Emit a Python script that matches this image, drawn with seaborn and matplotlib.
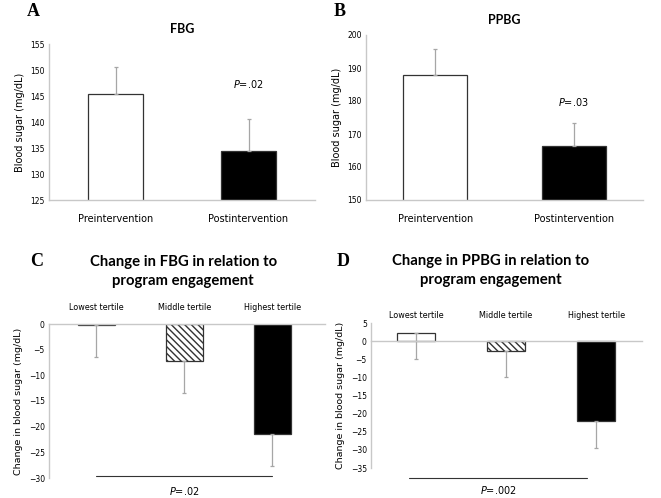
import matplotlib
matplotlib.use('agg')
import matplotlib.pyplot as plt
import seaborn as sns
import pandas as pd
import numpy as np

# panel A / B data
phases = ["Preintervention", "Postintervention"]
fbg_means = [145.4, 134.4]
fbg_err_top = [150.5, 140.5]
ppbg_means = [188.0, 166.5]
ppbg_err_top = [195.7, 173.3]

# panel C / D data
tertiles = ["Lowest tertile", "Middle tertile", "Highest tertile"]
fbg_change = [-0.2, -7.2, -21.4]
fbg_change_err = [-6.5, -13.5, -27.7]
ppbg_change = [2.3, -2.8, -22.0]
ppbg_change_err = [-5.0, -10.0, -29.5]

sns.set_theme(style="white")
plt.rcParams['font.family'] = ['DejaVu Sans']
plt.rcParams['mathtext.fontset'] = 'dejavusans'
plt.rcParams['text.color'] = 'black'
plt.rcParams['axes.labelcolor'] = 'black'
plt.rcParams['xtick.color'] = 'black'
plt.rcParams['ytick.color'] = 'black'

W, H = 661, 498
fig = plt.figure(figsize=(W / 100, H / 100), dpi=100)

SPINE = "#c8c8c8"
ERR = "#a6a6a6"


def px_axes(x0, y0, x1, y1):
    # pixel box (top-left origin) -> figure axes
    return fig.add_axes([x0 / W, 1 - y1 / H, (x1 - x0) / W, (y1 - y0) / H])


def style_axes(ax):
    for s in ["top", "right"]:
        ax.spines[s].set_visible(False)
    for s in ["left", "bottom"]:
        ax.spines[s].set_color(SPINE)
        ax.spines[s].set_linewidth(1.0)
    ax.tick_params(axis="y", labelsize=5.5, length=0, pad=3)
    ax.set_xlabel("")


def prepost_panel(box, means, err_top, ylim, yticks, title, ptxt, ppos, width):
    ax = px_axes(*box)
    df = pd.DataFrame({"phase": phases, "value": means})
    sns.barplot(data=df, x="phase", y="value", hue="phase",
                palette=["white", "black"], legend=False, width=width,
                edgecolor="#333333", linewidth=0.9, ax=ax)
    yerr = np.array(err_top) - np.array(means)
    ax.errorbar(range(len(means)), means, yerr=[np.zeros_like(yerr), yerr],
                fmt="none", ecolor=ERR, elinewidth=0.9, capsize=1.5, capthick=0.9)
    ax.set_ylim(*ylim)
    ax.set_yticks(yticks)
    ax.set_xlim(-0.5, 1.5)
    style_axes(ax)
    ax.tick_params(axis="x", labelsize=7, length=0, pad=10)
    ax.set_ylabel("Blood sugar (mg/dL)", fontsize=7, labelpad=4)
    ax.set_title(title, fontsize=9, fontweight="bold", family="Lato", pad=8)
    ax.text(ppos[0], ppos[1], ptxt, fontsize=7, ha="center", va="center")
    return ax


def change_panel(box, vals, err_end, ylim, yticks, title, ptxt,
                 xlim, label_y, line_y, line_x, p_y, title_x):
    ax = px_axes(*box)
    df = pd.DataFrame({"tertile": tertiles, "value": vals})
    sns.barplot(data=df, x="tertile", y="value", hue="tertile",
                palette=["white", "white", "black"], legend=False, width=0.42,
                edgecolor="#333333", linewidth=0.9, ax=ax)
    ax.patches[1].set_hatch("\\\\\\\\\\")
    err = np.array(vals) - np.array(err_end)
    ax.errorbar(range(len(vals)), vals, yerr=[err, np.zeros_like(err)],
                fmt="none", ecolor=ERR, elinewidth=0.9, capsize=1.5, capthick=0.9)
    ax.set_xlim(*xlim)
    ax.set_ylim(*ylim)
    ax.set_yticks(yticks)
    style_axes(ax)
    ax.spines["bottom"].set_position(("data", 0))
    ax.set_xticks([])
    for i, t in enumerate(tertiles):
        ax.text(i, label_y, t, fontsize=5.8, ha="center", va="center", clip_on=False)
    ax.plot(line_x, [line_y, line_y], color="#333333", lw=0.8, clip_on=False)
    ax.text(np.mean(line_x), p_y, ptxt, fontsize=7, ha="center", va="center", clip_on=False)
    ax.set_ylabel("Change in blood sugar (mg/dL)", fontsize=6.8, labelpad=4)
    ax.set_title(title, fontsize=10.7, fontweight="bold", family="Lato", pad=28,
                 linespacing=1.45, x=title_x)
    return ax


prepost_panel((49, 44, 315, 200), fbg_means, fbg_err_top, (125, 155),
              [125, 130, 135, 140, 145, 150, 155], "FBG",
              r"$\it{P}$=.02", (1, 147.3), 0.42)
prepost_panel((366, 35, 643, 200), ppbg_means, ppbg_err_top, (150, 200),
              [150, 160, 170, 180, 190, 200], "PPBG",
              r"$\it{P}$=.03", (1, 179.7), 0.46)

change_panel((49, 324, 325, 478), fbg_change, fbg_change_err, (-30, 0),
             [0, -5, -10, -15, -20, -25, -30],
             "Change in FBG in relation to\nprogram engagement",
             r"$\it{P}$=.02", (-0.54, 2.6), 3.2, -29.6, [0.0, 2.0], -32.6, 0.486)
change_panel((371, 323, 642, 468), ppbg_change, ppbg_change_err, (-35, 5),
             [5, 0, -5, -10, -15, -20, -25, -30, -35],
             "Change in PPBG in relation to\nprogram engagement",
             r"$\it{P}$=.002", (-0.5, 2.51), 7.2, -37.7, [-0.08, 1.9], -41.2, 0.443)

# panel letters
for letter, (x, y) in zip("ABCD", [(33, 11), (340, 11), (37, 261), (343, 261)]):
    fig.text(x / W, 1 - y / H, letter, fontsize=13, fontweight="bold",
             family="Liberation Serif", ha="center", va="center")

fig.savefig("out.png", dpi=100, facecolor="white")
